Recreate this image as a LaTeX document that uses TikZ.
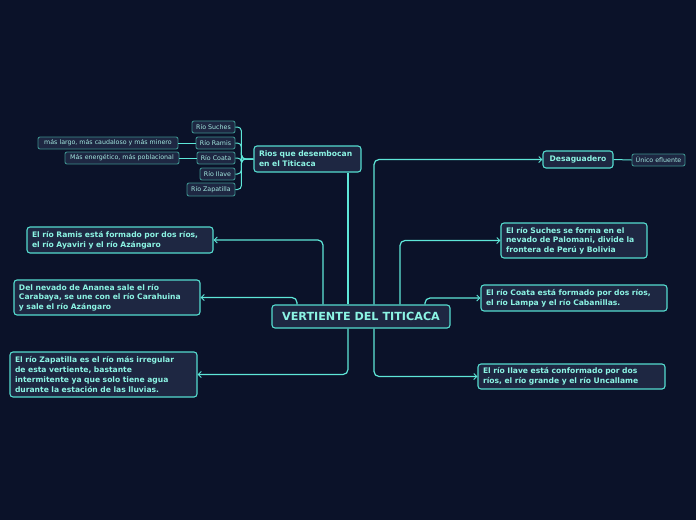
\documentclass[tikz,border=0pt]{standalone}
\usepackage{fontspec}
\setmainfont{DejaVu Sans}
\usetikzlibrary{arrows.meta}
\definecolor{bgc}{HTML}{0B1229}
\definecolor{boxfill}{HTML}{1E2742}
\definecolor{boxline}{HTML}{55DCCF}
\definecolor{txtc}{HTML}{8CF4E4}
\definecolor{smline}{HTML}{3C8E8C}
\definecolor{smtxt}{HTML}{A4E8E0}
\definecolor{wire}{HTML}{5EE6D8}
\tikzset{
  bigbox/.style={draw=boxline, fill=boxfill, line width=1.1pt, rounded corners=3pt, text=txtc,
    font=\bfseries\fontsize{7.6}{9.7}\selectfont, align=left, anchor=center, inner xsep=5pt, inner ysep=2pt},
  smbox/.style={draw=smline, fill=boxfill, line width=0.9pt, rounded corners=2pt, text=smtxt,
    font=\fontsize{6.3}{7}\selectfont, anchor=center, inner sep=0pt},
  wireline/.style={draw=wire, line width=1.2pt, rounded corners=5pt},
  arr/.style={-{Straight Barb[length=3pt,width=6pt,line width=1pt]}}
}
\begin{document}
\begin{tikzpicture}[x=1pt,y=-1pt]
\fill[bgc] (0,0) rectangle (696,520);
\useasboundingbox (0,0) rectangle (696,520);

% central
\node[bigbox, minimum width=178pt, minimum height=23pt, align=center, font=\bfseries\fontsize{11.2}{12}\selectfont] (c) at (361,316.5) {VERTIENTE DEL TITICACA};

\node[bigbox, minimum width=107pt, minimum height=26pt, text width=97pt] (rios) at (307.5,159) {Rios que desembocan\\en el Titicaca};
\node[bigbox, minimum width=70pt, minimum height=17pt, align=center] (desag) at (578,159.5) {Desaguadero};
\node[smbox, minimum width=53pt, minimum height=12pt] (unico) at (658.5,160) {Único efluente};

\node[bigbox, minimum width=146pt, minimum height=35pt, text width=136pt] (suches) at (574,240.5) {El río Suches se forma en el\\nevado de Palomani, divide la\\frontera de Perú y Bolivia};
\node[bigbox, minimum width=186pt, minimum height=26pt, text width=176pt] (coata) at (574,298) {El río Coata está formado por dos ríos,\\el río Lampa y el río Cabanillas.};
\node[bigbox, minimum width=187pt, minimum height=25pt, text width=177pt] (ilave) at (571.5,376.5) {El río Ilave está conformado por dos\\ríos, el río grande y el río Uncallame};
\node[bigbox, minimum width=186pt, minimum height=26pt, text width=176pt] (ramis) at (120,240) {El río Ramis está formado por dos ríos,\\el río Ayaviri y el río Azángaro};
\node[bigbox, minimum width=186pt, minimum height=35pt, text width=176pt] (ananea) at (107,297.5) {Del nevado de Ananea sale el río\\Carabaya, se une con el río Carahuina\\y sale el río Azángaro};
\node[bigbox, minimum width=187pt, minimum height=45pt, text width=177pt] (zap) at (103.5,374.5) {El río Zapatilla es el río más irregular\\de esta vertiente, bastante\\intermitente ya que solo tiene agua\\durante la estación de las lluvias.};

% small children of rios
\node[smbox, minimum width=43pt, minimum height=12pt] (rsuches) at (213.5,127) {Río Suches};
\node[smbox, minimum width=39pt, minimum height=12pt] (rramis) at (215.5,143) {Río Ramis};
\node[smbox, minimum width=38pt, minimum height=12pt] (rcoata) at (216,158) {Río Coata};
\node[smbox, minimum width=35pt, minimum height=12pt] (rilave) at (217.5,174) {Río Ilave};
\node[smbox, minimum width=48pt, minimum height=13pt] (rzap) at (211,189.5) {Río Zapatilla};
\node[smbox, minimum width=140pt, minimum height=12pt] (largo) at (108,143) {más largo, más caudaloso y más minero};
\node[smbox, minimum width=114pt, minimum height=12pt] (energ) at (122,158) {Más energético, más poblacional};

% connectors from centre
\draw[wireline] ([xshift=-13pt]c.north) -- ([xshift=-13pt]c.north |- rios.south);
\draw[wireline,arr] ([xshift=13pt]c.north) |- (desag.west);
\draw[wireline,arr] ([xshift=39pt]c.north) |- (suches.west);
\draw[wireline,arr] ([xshift=64pt]c.north) |- (coata.west);
\draw[wireline,arr] ([xshift=13pt]c.south) |- (ilave.west);
\draw[wireline,arr] ([xshift=-38pt]c.north) |- (ramis.east);
\draw[wireline,arr] ([xshift=-64pt]c.north) |- (ananea.east);
\draw[wireline,arr] ([xshift=-13pt]c.south) |- (zap.east);

% rios bracket
\foreach \n in {rsuches,rramis,rcoata,rilave,rzap}
  \draw[wireline, rounded corners=4pt, line width=1pt] (rios.west) -- ++(-12pt,0) |- (\n.east);
\draw[wireline, line width=1pt] (rramis.west) -- (largo.east);
\draw[wireline, line width=1pt] (rcoata.west) -- (energ.east);
\draw[wireline, line width=1pt] (desag.east) -- (unico.west);
\end{tikzpicture}
\end{document}
